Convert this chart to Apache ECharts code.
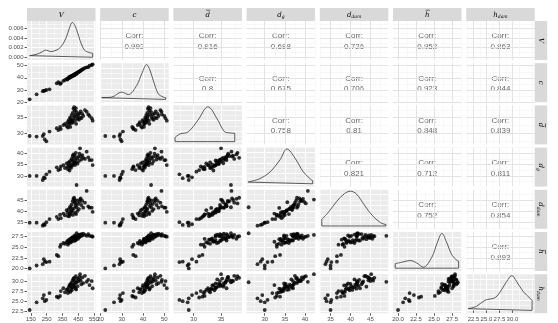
<!DOCTYPE html>
<html>
<head>
<meta charset="utf-8">
<script src="https://cdn.jsdelivr.net/npm/echarts@6/dist/echarts.min.js"></script>
<style>
  html, body { margin: 0; padding: 0; background: #fff; }
  #main { width: 558px; height: 323px; }
</style>
</head>
<body>
<div id="main"></div>
<script>
var V    = [142,186,225,232,238,248,268,314,324,335,340,356,366,377,382,385,390,392,395,398,400,403,405,408,410,412,415,417,420,422,424,426,428,430,432,435,437,440,443,446,450,455,458,462,466,470,476,482,493,504,514,522,536,542];
var cVal = [22.2,26.3,28.9,29.2,29.4,29.9,30.5,35.4,36.5,34.9,35.5,37.5,38.2,39.0,38.5,39.5,39.8,40.5,40.0,41.0,40.4,41.2,40.8,41.5,41.0,41.8,42.0,41.6,42.3,42.0,42.6,42.2,43.0,42.7,43.2,43.5,43.0,43.8,44.0,44.3,44.6,45.0,45.4,45.6,46.0,46.4,46.9,47.3,48.2,48.7,48.9,50.0,50.6,51.2];
var dBar = [29.1,28.9,29.1,29.7,28.0,27.4,30.5,31.6,31.0,32.0,31.3,32.6,33.0,32.3,33.5,31.8,34.2,32.8,33.6,35.0,32.0,34.5,33.2,35.8,33.8,34.0,36.5,33.4,37.8,34.8,38.3,35.4,37.2,34.0,36.0,38.0,33.0,36.8,35.2,34.6,35.9,34.3,36.3,35.0,37.0,34.8,36.2,35.5,37.4,36.9,36.0,35.5,34.8,34.0];
var dG   = [30.0,30.0,28.2,29.4,29.0,30.7,31.9,33.8,32.6,33.0,34.2,34.8,33.5,35.5,34.0,33.0,36.0,34.6,32.4,36.5,34.0,35.2,33.6,37.5,34.4,36.8,38.8,35.0,39.5,36.2,38.0,35.6,39.0,34.8,37.0,40.2,36.0,26.0,37.8,35.4,38.4,36.6,39.8,42.2,38.6,37.2,39.2,38.0,37.5,40.7,38.2,37.0,37.0,34.8];
var dDam = [35.0,35.0,33.7,34.3,34.0,35.2,36.6,37.6,36.6,38.5,37.0,39.0,38.2,40.5,39.5,38.0,41.0,37.8,39.0,42.0,38.6,40.0,41.5,43.0,39.8,40.6,44.5,38.4,45.5,41.2,46.0,44.0,45.0,39.4,42.4,43.5,38.8,41.8,44.8,40.2,43.2,41.0,44.2,45.2,45.7,42.8,44.6,41.6,43.8,49.0,42.2,41.6,41.6,39.8];
var hBar = [20.0,20.7,21.0,22.2,21.6,21.5,21.6,23.2,22.9,25.1,25.6,26.0,25.8,26.2,26.5,25.6,26.0,26.8,26.3,26.6,27.0,26.1,26.9,27.2,26.4,26.7,27.4,27.1,27.0,26.5,27.6,26.9,27.3,27.8,26.6,27.5,26.8,28.3,27.2,27.7,27.0,28.0,27.4,27.9,27.6,28.1,27.8,28.2,27.9,27.7,28.1,27.7,27.6,27.5];
var hDam = [22.8,24.7,25.7,26.5,25.0,25.3,27.0,26.1,25.9,26.3,27.5,28.2,27.2,27.8,28.0,27.0,28.5,27.5,29.0,28.8,27.3,29.3,28.1,29.6,27.7,28.4,30.2,28.9,30.5,29.1,30.8,28.6,30.0,29.4,28.2,31.2,27.9,29.7,30.6,28.7,29.9,30.4,31.0,31.7,30.1,29.2,30.9,29.5,31.3,29.8,30.3,29.0,30.0,28.2];

// diagonal density curves [x, density]; V in absolute units, the rest relative to their peak
var densV    = [[142,0.00034],[170,0.0005],[200,0.0008],[225,0.0012],[242,0.0015],[258,0.0014],[273,0.0012],[295,0.0013],[324,0.0017],[350,0.0026],[376,0.0043],[395,0.0062],[413,0.0073],[430,0.0066],[447,0.0051],[462,0.0035],[478,0.0022],[490,0.0015],[503,0.0012],[520,0.001],[542,0.00084]];
var densC    = [[20.5,0.05],[25.2,0.066],[29.9,0.21],[33.1,0.14],[37.0,0.40],[39.5,0.75],[41.7,1.0],[43.2,0.85],[44.8,0.55],[47.2,0.16],[49.6,0.066],[50.7,0.05]];
var densDBar = [[26.6,0.12],[27.5,0.22],[29.0,0.28],[30.8,0.62],[32.6,1.0],[34.4,0.62],[35.6,0.29],[36.6,0.25],[37.5,0.24]];
var densDG   = [[25.9,0.05],[28.8,0.15],[31.3,0.34],[33.8,0.69],[35.5,1.0],[37.5,0.74],[39.6,0.34],[41.7,0.10],[41.9,0.09]];
var densDDam = [[32.8,0.19],[34.5,0.4],[36.5,0.7],[38.5,0.93],[40.0,1.0],[41.5,0.92],[43.5,0.6],[45.5,0.3],[47.5,0.1],[48.9,0.04]];
var densHBar = [[19.6,0.13],[20.5,0.17],[21.7,0.22],[22.6,0.15],[23.5,0.03],[24.7,0.32],[25.4,0.71],[26.1,1.0],[26.7,0.76],[27.5,0.37],[28.2,0.22],[28.4,0.2]];
var densHDam = [[21.5,0.05],[23.1,0.12],[24.7,0.29],[26.7,0.37],[27.9,0.59],[28.9,0.83],[29.9,1.0],[30.8,0.83],[32.1,0.54],[33.4,0.35],[33.8,0.29]];

// tick labels
var ticksV = [150,250,350,450,550], minorV = [200,300,400,500];
var ticksC = [20,30,40,50], minorC = [25,35,45];
var ticksDBar = [30,35], minorDBar = [27.5,32.5,37.5];
var ticksDG = [30,35,40], minorDG = [27.5,32.5,37.5,42.5];
var ticksDDam = [35,40,45], minorDDam = [32.5,37.5,42.5,47.5];
var ticksHBar = [20,22.5,25,27.5], minorHBar = [21.25,23.75,26.25,28.75];
var ticksHDam = [22.5,25,27.5,30], minorHDam = [21.25,23.75,26.25,28.75,31.25,33.75];
var ticksDensV = [0,0.002,0.004,0.006], minorDensV = [0.001,0.003,0.005,0.007];
var ticksRel = [0,0.3,0.6,0.9], minorRel = [0.15,0.45,0.75];

// strip labels: letter, subscript, overbar
var labels = [['V', '', false], ['c', '', false], ['d', '', true], ['d', 'g', false],
              ['d', 'dam', false], ['h', '', true], ['h', 'dam', false]];

// correlation text, upper triangle, row by row
var corr = [
  [null, '0.992', '0.816', '0.688', '0.726', '0.952', '0.863'],
  [null, null, '0.8', '0.675', '0.706', '0.923', '0.844'],
  [null, null, null, '0.758', '0.81', '0.848', '0.839'],
  [null, null, null, null, '0.821', '0.712', '0.811'],
  [null, null, null, null, null, '0.752', '0.854'],
  [null, null, null, null, null, null, '0.893']
];

var obs = [V, cVal, dBar, dG, dDam, hBar, hDam];
var dens = [densV, densC, densDBar, densDG, densDDam, densHBar, densHDam];
var ticks = [ticksV, ticksC, ticksDBar, ticksDG, ticksDDam, ticksHBar, ticksHDam];
var minors = [minorV, minorC, minorDBar, minorDG, minorDDam, minorHBar, minorHDam];
var decimals = [0, 0, 0, 0, 0, 1, 1];

// axis extents as seen in the picture
var colRange = [[125,560],[19.8,52.1],[26.3,38.8],[25.5,42.5],[32.3,49.5],[19.3,28.8],[21.1,34.3]];
var rowRange = [[-0.00057,0.0076],[19.8,52.1],[26.4,38.9],[25.3,42.5],[32.3,49.5],[19.4,28.6],[22.0,31.7]];
var relRange = [-0.08, 1.04];

var N = 7, PW = 68.5, PH = 39;
function colLeft(j) { return 27 + 73.2 * j; }
function rowTop(i) { return 21 + 42.2 * i; }

var chart = echarts.init(document.getElementById('main'));
var grids = [], xAxes = [], yAxes = [], series = [], graphics = [];

function mkAxis(k, range, tk, mn, showLabel, dec, upper, isMinor) {
  return {
    gridIndex: k, type: 'value', min: range[0], max: range[1],
    axisLine: { show: false },
    axisTick: { show: showLabel && !isMinor, length: 2.5, customValues: isMinor ? mn : tk,
                lineStyle: { color: '#333', width: 0.8 } },
    axisLabel: { show: showLabel && !isMinor, customValues: tk, margin: 3.5,
                 fontSize: 6, color: '#4D4D4D', fontFamily: 'Liberation Sans',
                 formatter: function (v) { return v.toFixed(dec); } },
    splitLine: { show: true, lineStyle: {
      color: upper ? (isMinor ? '#F1F1F1' : '#E3E3E3') : '#FFFFFF',
      width: isMinor ? 0.5 : 1 } },
    minorTick: { show: false },
    minorSplitLine: { show: false }
  };
}

for (var i = 0; i < N; i++) {
  for (var j = 0; j < N; j++) {
    var k = grids.length;
    var upper = j > i;
    grids.push({
      left: colLeft(j), top: rowTop(i), width: PW, height: PH,
      containLabel: false, outerBoundsMode: 'none',
      show: true, borderWidth: 0,
      backgroundColor: upper ? '#FFFFFF' : '#EBEBEB'
    });
    var showX = (i === N - 1), showY = (j === 0);
    xAxes.push(mkAxis(k, colRange[j], ticks[j], minors[j], showX, decimals[j], upper, false));
    xAxes.push(mkAxis(k, colRange[j], ticks[j], minors[j], false, decimals[j], upper, true));
    var yr, yt, ym, yd;
    if (i === j && i > 0) { yr = relRange; yt = ticksRel; ym = minorRel; yd = 1; }
    else if (i === 0) { yr = rowRange[0]; yt = ticksDensV; ym = minorDensV; yd = 3; }
    else { yr = rowRange[i]; yt = ticks[i]; ym = minors[i]; yd = decimals[i]; }
    yAxes.push(mkAxis(k, yr, yt, ym, showY, yd, upper, false));
    yAxes.push(mkAxis(k, yr, yt, ym, false, yd, upper, true));

    var cx = colLeft(j) + PW / 2, cy = rowTop(i) + PH / 2;
    if (i === j) {
      var d = dens[i];
      var first = d[0], last = d[d.length - 1];
      series.push({
        type: 'line', xAxisIndex: 2 * k, yAxisIndex: 2 * k, data: d,
        smooth: 0.35, showSymbol: false, silent: true,
        lineStyle: { color: '#333', width: 0.8 }
      });
      series.push({
        type: 'line', xAxisIndex: 2 * k, yAxisIndex: 2 * k,
        data: [[first[0], first[1]], [first[0], 0], [last[0], 0], [last[0], last[1]]],
        showSymbol: false, silent: true,
        lineStyle: { color: '#333', width: 0.8 }
      });
    } else if (i > j) {
      var pts = [];
      for (var n = 0; n < obs[j].length; n++) pts.push([obs[j][n], obs[i][n]]);
      series.push({
        type: 'scatter', xAxisIndex: 2 * k, yAxisIndex: 2 * k, data: pts,
        symbolSize: 3.8, silent: true,
        itemStyle: { color: '#000' }
      });
    } else {
      graphics.push({
        type: 'text', x: cx, y: cy + 1,
        style: { text: 'Corr:\n' + corr[i][j], align: 'center', verticalAlign: 'middle',
                 fontSize: 8, lineHeight: 10.5, fill: '#666666', fontFamily: 'Liberation Sans' },
        silent: true
      });
    }
  }
}

var rich = {
  i: { fontFamily: 'DejaVu Serif', fontStyle: 'italic', fontSize: 7, color: '#1A1A1A', lineHeight: 10 },
  s: { fontFamily: 'DejaVu Serif', fontStyle: 'italic', fontSize: 4.5, color: '#1A1A1A', lineHeight: 10, verticalAlign: 'bottom', padding: [3, 0, 0, 0] }
};

// one strip label: italic letter, optional subscript, optional bar over the letter
function stripLabel(lab, x, y, rot) {
  var txt = '{i|' + lab[0] + '}' + (lab[1] ? '{s|' + lab[1] + '}' : '');
  var kids = [{ type: 'text', x: 0, y: 0,
    style: { text: txt, rich: rich, align: 'center', verticalAlign: 'middle' } }];
  if (lab[2]) {
    kids.push({ type: 'line', shape: { x1: -1.6, y1: -4.6, x2: 2.6, y2: -4.6 },
      style: { stroke: '#1A1A1A', lineWidth: 0.6 } });
  }
  return { type: 'group', x: x, y: y, rotation: rot, silent: true, children: kids };
}

for (var j2 = 0; j2 < N; j2++) {
  graphics.push({ type: 'rect', silent: true,
    shape: { x: colLeft(j2), y: 8, width: PW, height: 13 }, style: { fill: '#D9D9D9' } });
  graphics.push(stripLabel(labels[j2], colLeft(j2) + PW / 2, 14.8, 0));
}
for (var i2 = 0; i2 < N; i2++) {
  graphics.push({ type: 'rect', silent: true,
    shape: { x: colLeft(6) + PW, y: rowTop(i2), width: 12.5, height: PH }, style: { fill: '#D9D9D9' } });
  graphics.push(stripLabel(labels[i2], colLeft(6) + PW + 6.2, rowTop(i2) + PH / 2, -Math.PI / 2));
}

chart.setOption({
  animation: false,
  backgroundColor: '#FFFFFF',
  grid: grids,
  xAxis: xAxes,
  yAxis: yAxes,
  series: series,
  graphic: { elements: graphics }
});
</script>
</body>
</html>
